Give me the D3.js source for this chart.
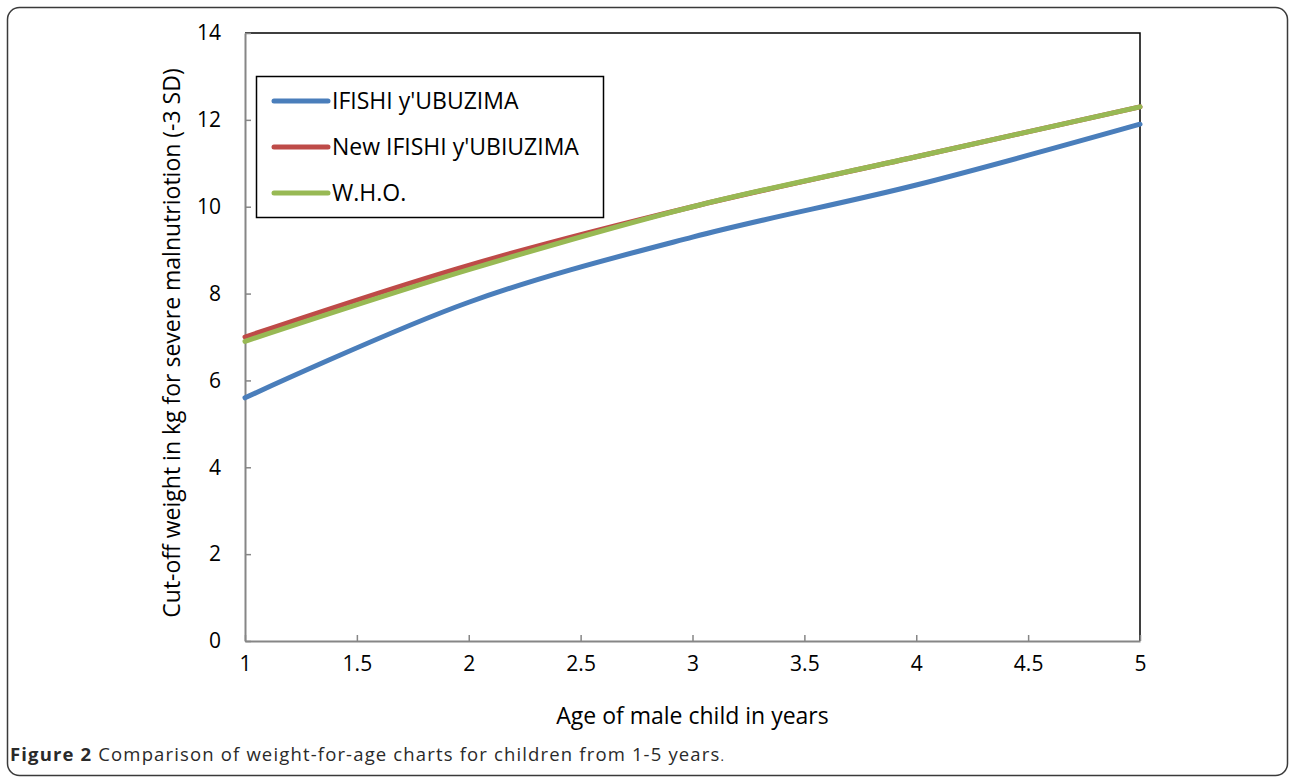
<!DOCTYPE html>
<html>
<head>
<meta charset="utf-8">
<script src="https://cdn.jsdelivr.net/npm/d3@7"></script>
<style>
  html, body { margin: 0; padding: 0; background: #fff; }
  svg { display: block; }
</style>
</head>
<body>
<svg id="chart" width="1290" height="778"></svg>
<script>
// ---- data ----
const ages = [1, 2, 3, 4, 5];
const ifishi = [5.6, 7.8, 9.3, 10.5, 11.9];
const newIfishi = [7.0, 8.65, 10.0, 11.15, 12.3];
const who = [6.9, 8.55, 10.0, 11.15, 12.3];
const seriesNames = ["IFISHI y'UBUZIMA", "New IFISHI y'UBIUZIMA", "W.H.O."];
const seriesColors = ["#4A7EBB", "#BE4B48", "#98B954"];
const xTicks = [1, 1.5, 2, 2.5, 3, 3.5, 4, 4.5, 5];
const yTicks = [0, 2, 4, 6, 8, 10, 12, 14];
const xTitle = "Age of male child in years";
const yTitle = "Cut-off weight in kg  for severe malnutriotion (-3 SD)";

const FONT = "'Open Sans', sans-serif";
const svg = d3.select("#chart");

// outer frame
svg.append("rect")
  .attr("x", 7.5).attr("y", 7.5).attr("width", 1280).attr("height", 768)
  .attr("rx", 12).attr("ry", 12)
  .attr("fill", "none").attr("stroke", "#3a3a3a").attr("stroke-width", 1.5);

const plot = { left: 245, right: 1140, top: 33, bottom: 641 };
const x = d3.scaleLinear().domain([1, 5]).range([plot.left, plot.right]);
const y = d3.scaleLinear().domain([0, 14]).range([plot.bottom, plot.top]);

// plot border top & right (black)
svg.append("path")
  .attr("d", `M${plot.left},${plot.top}H${plot.right}V${plot.bottom}`)
  .attr("fill", "none").attr("stroke", "#000").attr("stroke-width", 1.5);

// axes
const xAxis = d3.axisBottom(x).tickValues(xTicks).tickSizeInner(-6).tickSizeOuter(0)
  .tickPadding(15).tickFormat(d3.format("~g"));
const gx = svg.append("g").attr("transform", `translate(0,${plot.bottom})`).call(xAxis);
gx.select(".domain").attr("stroke", "#868686").attr("stroke-width", 2);
gx.selectAll(".tick line").attr("stroke", "#868686").attr("stroke-width", 1.5);
gx.selectAll(".tick text").style("font-size", "21px").style("font-family", FONT).style("fill", "#000");

const yAxis = d3.axisLeft(y).tickValues(yTicks).tickSizeInner(-6).tickSizeOuter(0)
  .tickPadding(24);
const gy = svg.append("g").attr("transform", `translate(${plot.left},0)`).call(yAxis);
gy.select(".domain").attr("stroke", "#868686").attr("stroke-width", 2);
gy.selectAll(".tick line").attr("stroke", "#868686").attr("stroke-width", 1.5);
gy.selectAll(".tick text").style("font-size", "21px").style("font-family", FONT).style("fill", "#000");

// lines
const allSeries = [ifishi, newIfishi, who];
const line = d3.line()
  .x((d, i) => x(ages[i]))
  .y(d => y(d))
  .curve(d3.curveCatmullRom.alpha(0));
allSeries.forEach((s, k) => {
  svg.append("path")
    .datum(s)
    .attr("d", line)
    .attr("fill", "none")
    .attr("stroke", seriesColors[k])
    .attr("stroke-width", 5)
    .attr("stroke-linecap", "round")
    .attr("stroke-linejoin", "round");
});

// legend
const lg = svg.append("g");
lg.append("rect").attr("x", 256.5).attr("y", 76.5).attr("width", 347).attr("height", 141)
  .attr("fill", "#fff").attr("stroke", "#000").attr("stroke-width", 1.5);
const legY = [101, 147, 193];
seriesNames.forEach((name, k) => {
  lg.append("line").attr("x1", 274).attr("x2", 328).attr("y1", legY[k]).attr("y2", legY[k])
    .attr("stroke", seriesColors[k]).attr("stroke-width", 5).attr("stroke-linecap", "round");
  lg.append("text").attr("x", 332).attr("y", legY[k]).attr("dy", "0.35em")
    .style("font-family", FONT).style("font-size", "23px").style("fill", "#000").text(name);
});

// axis titles
svg.append("text").attr("x", (plot.left + plot.right) / 2).attr("y", 724)
  .attr("text-anchor", "middle")
  .style("font-family", FONT).style("font-size", "23px").style("fill", "#000").text(xTitle);
svg.append("text")
  .attr("transform", `translate(180,${(plot.top + plot.bottom) / 2 + 6}) rotate(-90)`)
  .attr("text-anchor", "middle")
  .style("font-family", FONT).style("font-size", "23px").style("fill", "#000").text(yTitle);

// caption
const cap = svg.append("text").attr("x", 10).attr("y", 761)
  .style("font-family", FONT).style("font-size", "18.5px").style("letter-spacing", "1.15px")
  .style("fill", "#2a2a2a");
cap.append("tspan").style("font-weight", "bold").text("Figure 2");
cap.append("tspan").text(" Comparison of weight-for-age charts for children from 1-5 years");
cap.append("tspan").style("font-size", "13px").text(".");
</script>
</body>
</html>
